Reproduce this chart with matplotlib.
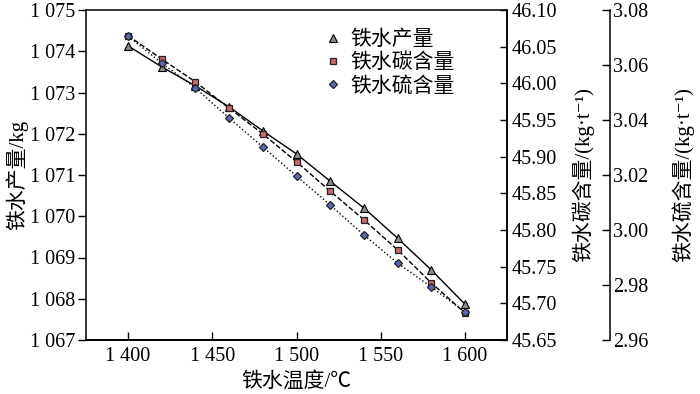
import matplotlib
matplotlib.use("Agg")
import matplotlib.pyplot as plt
from matplotlib.ticker import FuncFormatter, MultipleLocator
from matplotlib.lines import Line2D

temps = [1400, 1420, 1440, 1460, 1480, 1500, 1520, 1540, 1560, 1580, 1600]
production = [1074.13, 1073.62, 1073.16, 1072.65, 1072.07, 1071.51, 1070.85, 1070.20, 1069.47, 1068.70, 1067.87]
carbon = [46.065, 46.033, 46.002, 45.966, 45.931, 45.893, 45.853, 45.814, 45.773, 45.728, 45.687]
sulfur = [3.0705, 3.0607, 3.0516, 3.0407, 3.0302, 3.0196, 3.0091, 2.9982, 2.9880, 2.9793, 2.9702]

x_ticks = [1400, 1450, 1500, 1550, 1600]
labels = ["铁水产量", "铁水碳含量", "铁水硫含量"]

FAM = ['Liberation Serif', 'Noto Sans CJK SC', 'DejaVu Serif']
plt.rcParams['font.family'] = FAM
plt.rcParams['axes.linewidth'] = 1.1

fig = plt.figure(figsize=(7.0, 3.94), dpi=100)
ax = fig.add_axes([86/700, 54/394, 421/700, 330/394])
ax2 = ax.twinx()
ax3 = ax.twinx()
ax3.spines['right'].set_position(('axes', 524/421))
for a in (ax2, ax3):
    a.spines['top'].set_visible(False)
    a.spines['left'].set_visible(False)

def sp(v, pos=None):
    s = f"{int(round(v)):d}"
    if len(s) > 3:
        s = s[:-3] + " " + s[-3:]
    return s

ms = 5.5
tri = dict(marker='^', ms=ms, mfc='#8c8c8c', mec='black', mew=0.8)
sq = dict(marker='s', ms=ms - 1, mfc='#c86a6a', mec='#222222', mew=0.9)
dia = dict(marker='D', ms=ms - 1, mfc='#5a6ab0', mec='#222222', mew=0.9)

ax.plot(temps, production, '-', color='black', lw=1.0, **tri)
ax2.plot(temps, carbon, '--', color='black', lw=1.0, **sq)
ax3.plot(temps, sulfur, ':', color='black', lw=1.0, **dia)

ax.set_xlim(1375, 1625)
ax.set_ylim(1067, 1075)
ax2.set_ylim(45.65, 46.10)
ax3.set_ylim(2.96, 3.08)

ax.set_xticks(x_ticks)
ax.xaxis.set_major_formatter(FuncFormatter(sp))
ax.yaxis.set_major_locator(MultipleLocator(1))
ax.yaxis.set_major_formatter(FuncFormatter(sp))
ax2.yaxis.set_major_locator(MultipleLocator(0.05))
ax2.yaxis.set_major_formatter(FuncFormatter(lambda v, p: f"{v:.2f}"))
ax3.yaxis.set_major_locator(MultipleLocator(0.02))
ax3.yaxis.set_major_formatter(FuncFormatter(lambda v, p: f"{v:.2f}"))

fs = 14.5
lfs = 15
ax.tick_params(axis='x', direction='in', length=6, width=1.0, labelsize=fs, pad=5)
ax.tick_params(axis='y', direction='out', length=6, width=1.0, labelsize=fs, pad=2)
ax2.tick_params(axis='y', direction='in', length=5, width=1.0, labelsize=fs, pad=3)
ax3.tick_params(axis='y', direction='in', length=6, width=1.0, labelsize=fs, pad=2)

ax.set_xlabel("铁水温度/℃", fontsize=lfs, labelpad=4)
ax.set_ylabel("铁水产量/kg", fontsize=lfs, labelpad=1)
ax2.set_ylabel("铁水碳含量/(kg·t⁻¹)", fontsize=lfs, labelpad=11)
ax3.set_ylabel("铁水硫含量/(kg·t⁻¹)", fontsize=lfs, labelpad=17)

handles = [Line2D([], [], ls='none', **tri), Line2D([], [], ls='none', **sq),
           Line2D([], [], ls='none', **dia)]
ax3.legend(handles, labels, loc='upper left', bbox_to_anchor=(0.553, 0.95), frameon=False,
           fontsize=lfs, handlelength=1.0, handletextpad=0.3, labelspacing=0.16,
           borderaxespad=0.0, borderpad=0.2)

fig.savefig("out.png", dpi=100)
